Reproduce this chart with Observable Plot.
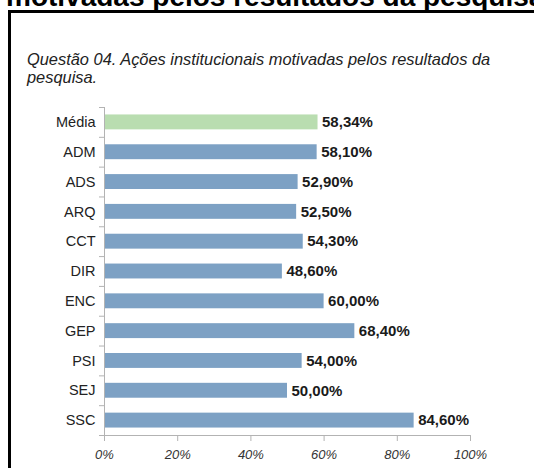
<!DOCTYPE html>
<html><head><meta charset="utf-8">
<script src="https://cdn.jsdelivr.net/npm/d3@7"></script>
<script src="https://cdn.jsdelivr.net/npm/@observablehq/plot@0.6"></script>
<style>
html,body{margin:0;padding:0;background:#fff;overflow:hidden;width:534px;height:468px;}
body{position:relative;font-family:"Liberation Sans",Arial,sans-serif;}
#title{position:absolute;left:6px;top:-17px;font-size:28px;line-height:28px;font-weight:bold;white-space:nowrap;color:#000;}
#box{position:absolute;left:8px;top:9.5px;width:700px;height:700px;border-left:3px solid #000;border-top:3px solid #000;}
#sub{position:absolute;left:27px;top:49.5px;font-size:16.4px;line-height:18.5px;font-style:italic;color:#222;white-space:nowrap;}
#chart{position:absolute;left:0;top:100px;width:534px;}
</style></head><body>
<div id="box"></div>
<div id="title">motivadas pelos resultados da pesquisa</div>
<div id="sub">Questão 04. Ações institucionais motivadas pelos resultados da<br>pesquisa.</div>
<div id="chart"></div>
<script>
const categories = ["Média","ADM","ADS","ARQ","CCT","DIR","ENC","GEP","PSI","SEJ","SSC"];
const values = [58.34,58.10,52.90,52.50,54.30,48.60,60.00,68.40,54.00,50.00,84.60];
const xTicks = [0,20,40,60,80,100];
const highlight = "Média";

const data = categories.map((c,i)=>({cat:c, value:values[i]}));
const fmt = v => v.toFixed(2).replace(".",",")+"%";
const H = 368, mTop = 7, mBottom = 33;
const step = (H - mTop - mBottom) / categories.length;

const plot = Plot.plot({
  width:534, height:H, marginLeft:104, marginRight:64, marginTop:mTop, marginBottom:mBottom,
  style:{fontFamily:"'Liberation Sans', Arial, sans-serif", background:"transparent", overflow:"visible"},
  x:{domain:[0,100]},
  y:{domain:categories, paddingInner:0.5, paddingOuter:0.25, round:false},
  marks:[
    Plot.barX(data.filter(d=>d.cat!==highlight),{x:"value", y:"cat", fill:"#7da1c4"}),
    Plot.barX(data.filter(d=>d.cat===highlight),{x:"value", y:"cat", fill:"#b9ddb0"}),
    Plot.text(data,{x:"value", y:"cat", text:d=>fmt(d.value), dx:4, textAnchor:"start", fontWeight:"bold", fontSize:15, fill:"#1a1a1a"}),
    Plot.frame({anchor:"left", stroke:"#b3b3b3"}),
    Plot.frame({anchor:"bottom", stroke:"#b3b3b3"}),
    Plot.axisX({ticks:xTicks, tickFormat:d=>d+"%", tickSize:6, tickPadding:8, stroke:"#b3b3b3", fill:"#333", fontSize:13, fontStyle:"italic", label:null}),
    Plot.axisY({tickSize:0, tickPadding:9, fontSize:14.5, fill:"#222", label:null}),
    Plot.axisY({tickSize:5, tickFormat:()=>"", dy:step/2, stroke:"#b3b3b3", label:null}),
    Plot.axisY([categories[0]],{tickSize:5, tickFormat:()=>"", dy:-step/2, stroke:"#b3b3b3", label:null})
  ]
});
document.getElementById("chart").appendChild(plot);
</script>
</body></html>
